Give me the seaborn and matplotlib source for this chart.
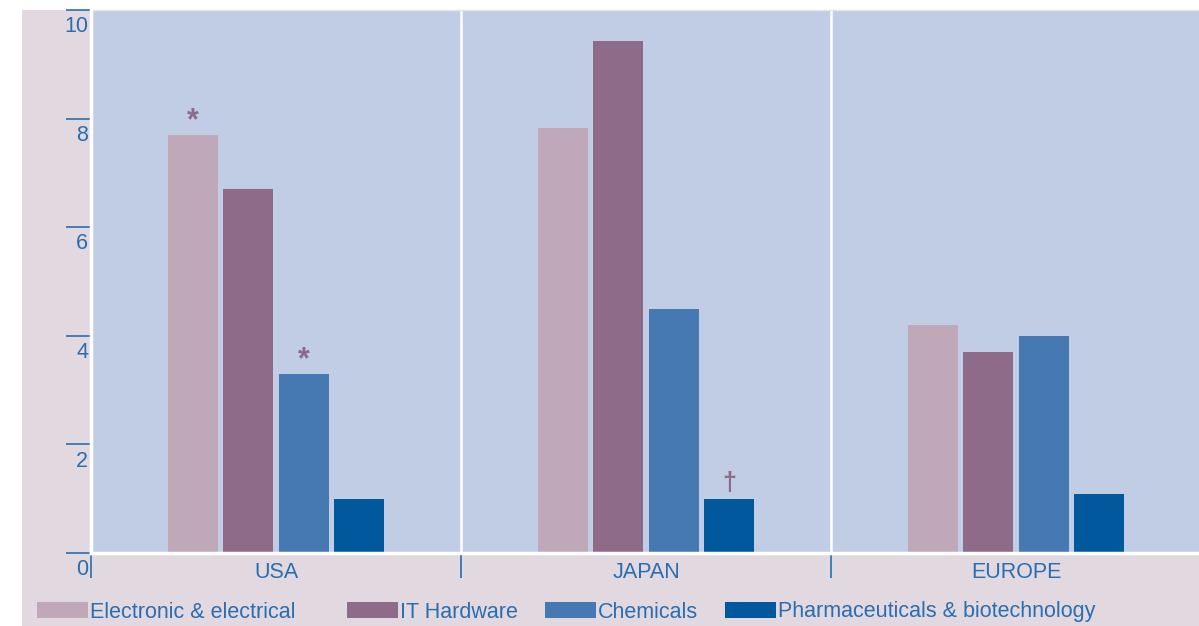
import matplotlib
matplotlib.use("Agg")
import matplotlib.pyplot as plt
from matplotlib.patches import Rectangle, Patch
from matplotlib.transforms import ScaledTranslation
import seaborn as sns
import pandas as pd

regions = ["USA", "JAPAN", "EUROPE"]
sectors = ["Electronic & electrical", "IT Hardware", "Chemicals",
           "Pharmaceuticals & biotechnology"]
electronic = [7.7, 7.82, 4.2]
it_hardware = [6.71, 9.42, 3.7]
chemicals = [3.3, 4.5, 4.0]
pharma = [1.0, 1.0, 1.09]
# footnote marks per sector, per region
notes = {
    "Electronic & electrical": ["*", "", ""],
    "IT Hardware": ["", "", ""],
    "Chemicals": ["*", "", ""],
    "Pharmaceuticals & biotechnology": ["", "\u2020", ""],
}
y_ticks = [0, 2, 4, 6, 8, 10]

colors = ["#bfa9b8", "#8e6b88", "#4679b2", "#01589c"]
text_blue = "#2a6db0"
mark_col = "#8e6a8a"
FS = 15.5

rows = []
for s, vals in zip(sectors, [electronic, it_hardware, chemicals, pharma]):
    for r, v in zip(regions, vals):
        rows.append({"region": r, "sector": s, "value": v})
df = pd.DataFrame(rows)

sns.set_theme(style="white")
plt.rcParams["font.family"] = ["Liberation Sans", "DejaVu Sans"]

W, H = 1199, 626
fig = plt.figure(figsize=(W / 100, H / 100), dpi=100, facecolor="white")
fig.patches.append(Rectangle((22 / W, 0), 1 - 22 / W, 1 - 10 / H,
                             transform=fig.transFigure, facecolor="#e2d9e0",
                             edgecolor="none", zorder=-10))

# three equal region panels of 370 px; the last one runs just past the edge
ax = fig.add_axes([91 / W, (H - 553) / H, 1110 / W, (553 - 10) / H])
ax.set_facecolor("#c1cde4")

sns.barplot(data=df, x="region", y="value", hue="sector", order=regions,
            hue_order=sectors, palette=colors, width=0.6, gap=0.1,
            saturation=1, linewidth=0, legend=False, ax=ax, zorder=3)

# footnote marks above bars
for s, cont in zip(sectors, ax.containers):
    for bar, mark in zip(cont, notes[s]):
        if mark:
            fs = 22 if mark == "*" else 18
            dy = -1 if mark == "*" else 3
            ax.annotate(mark, (bar.get_x() + bar.get_width() / 2, bar.get_height()),
                        xytext=(0, dy), textcoords="offset points",
                        ha="center", va="bottom", color=mark_col,
                        fontsize=fs, fontweight="bold", zorder=4)

ax.set_xlim(-0.5, 2.5)
ax.set_ylim(0, 10)
ax.set_xlabel("")
ax.set_ylabel("")

# y axis: ticks left, labels tucked beneath each tick
ax.set_yticks(y_ticks)
ax.set_yticklabels([str(t) for t in y_ticks])
ax.tick_params(axis="y", direction="out", length=18, width=1.2, color=text_blue,
               labelcolor=text_blue, labelsize=FS, pad=-16, left=True)
down = ScaledTranslation(0, -4.5 / 72, fig.dpi_scale_trans)
for lab in ax.get_yticklabels():
    lab.set_verticalalignment("top")
    lab.set_transform(lab.get_transform() + down)

# x axis: boundary ticks (major) and region labels (minor)
ax.set_xticks([-0.5, 0.5, 1.5, 2.5])
ax.set_xticklabels([])
ax.set_xticks([0, 1, 2], minor=True)
ax.set_xticklabels(regions, minor=True)
ax.tick_params(axis="x", which="major", direction="out", length=18, width=1.2,
               color=text_blue, bottom=True)
ax.tick_params(axis="x", which="minor", length=0, labelcolor=text_blue,
               labelsize=FS, pad=6.5)

# white separators between regions
ax.grid(False)
for xv in [0.5, 1.5]:
    ax.axvline(xv, color="white", lw=1.8, zorder=2)

for side in ["left", "bottom"]:
    ax.spines[side].set_color("white")
    ax.spines[side].set_linewidth(2.5)
    ax.spines[side].set_zorder(5)
ax.spines["top"].set_color("#dfe4ef")
ax.spines["top"].set_linewidth(1)
ax.spines["right"].set_visible(False)

# legend entries along the bottom
leg_x = [37, 347, 545, 725]
for s, c, lx in zip(sectors, colors, leg_x):
    lg = fig.legend(handles=[Patch(facecolor=c, edgecolor="none", label=s)],
                    loc="center left", bbox_to_anchor=(lx / W, (H - 612) / H),
                    frameon=False, fontsize=FS, handlelength=2.35,
                    handleheight=0.75, handletextpad=0.1, borderpad=0,
                    borderaxespad=0)
    for t in lg.get_texts():
        t.set_color(text_blue)

fig.savefig("out.png", dpi=100, facecolor=fig.get_facecolor())
